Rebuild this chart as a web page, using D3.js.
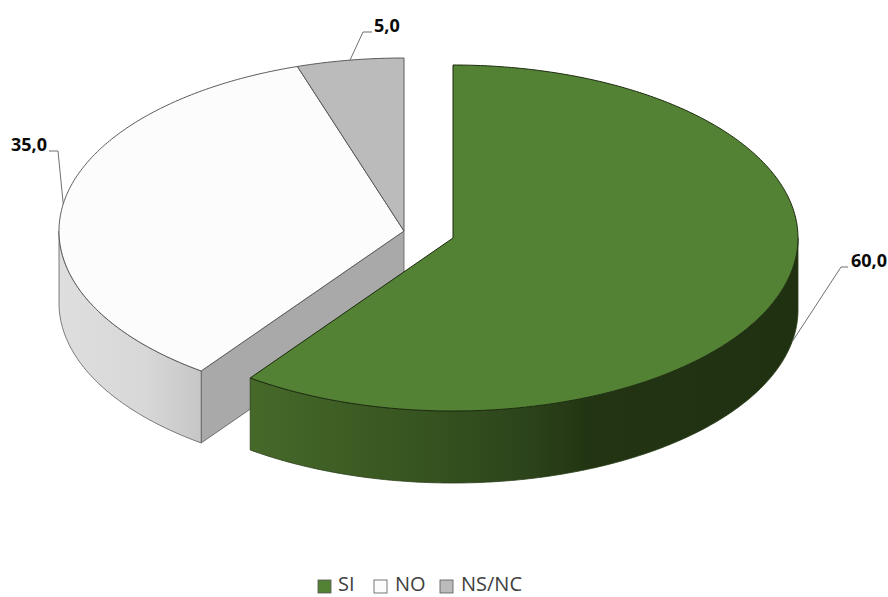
<!DOCTYPE html>
<html>
<head>
<meta charset="utf-8">
<style>
  html, body { margin: 0; padding: 0; background: #fff; }
  svg { display: block; }
  text { font-family: "Open Sans", sans-serif; }
</style>
</head>
<body>
<div id="chart"></div>
<script src="https://cdn.jsdelivr.net/npm/d3@7"></script>
<script>
var categories = ['SI', 'NO', 'NS/NC'];
var values = [60, 35, 5];
var labels = ['60,0', '35,0', '5,0'];

var topColors = ['#548235', '#fcfcfc', '#bbbbbb'];
var edgeColors = ['#1c2a0e', '#5a5a5a', '#5a5a5a'];

var width = 888, height = 597;
var rx = 345, ry = 173, depth = 72;

// the green slice is pulled out of the pie, the other two share a centre
var centres = [{x: 453, y: 238}, {x: 404, y: 231}, {x: 404, y: 231}];

// Setup: leader lines, anchor angle in degrees, elbow, label
var leaders = [
  {angle: 100.6, down: depth, elbow: [[841, 267], [848, 267]], tx: 851, ty: 267},
  {angle: 279, down: 0, elbow: [[58, 151], [49, 151]], tx: 11, ty: 151},
  {angle: 351, down: 0, elbow: [[363, 32], [372, 32]], tx: 374, ty: 32}
];

var svg = d3.select('#chart').append('svg')
  .attr('width', width)
  .attr('height', height);

var defs = svg.append('defs');

function gradient(id, x1, x2, stops) {
  var g = defs.append('linearGradient')
    .attr('id', id)
    .attr('gradientUnits', 'userSpaceOnUse')
    .attr('x1', x1).attr('x2', x2)
    .attr('y1', 0).attr('y2', 0);
  stops.forEach(function(s) {
    g.append('stop').attr('offset', s[0]).attr('stop-color', s[1]);
  });
}
gradient('wallGreen', 250, 800, [[0, '#46692a'], [0.3, '#375520'], [0.5, '#2c441b'], [0.62, '#223412'], [1, '#203112']]);
gradient('wallWhite', 59, 202, [[0, '#dedede'], [0.6, '#d8d8d8'], [1, '#c6c6c6']]);

var pie = d3.pie().sort(null).value(function(d) { return d; });
var arcs = pie(values);

function scales(i) {
  return {
    x: d3.scaleLinear().domain([-1, 1]).range([centres[i].x - rx, centres[i].x + rx]),
    y: d3.scaleLinear().domain([-1, 1]).range([centres[i].y - ry, centres[i].y + ry])
  };
}

function rim(i, a0, a1, dy) {
  var s = scales(i);
  return d3.range(a0, a1, 0.01).concat([a1]).map(function(a) {
    return [s.x(Math.sin(a)), s.y(-Math.cos(a)) + dy];
  });
}

var line = d3.line();

function wall(i, a0, a1, fill, stroke) {
  var path = rim(i, a0, a1, 0).concat(rim(i, a0, a1, depth).reverse());
  svg.append('path')
    .attr('d', line(path) + 'Z')
    .attr('fill', fill)
    .attr('stroke', stroke)
    .attr('stroke-width', 0.8)
    .attr('stroke-linejoin', 'round');
}

function topFace(i) {
  var c = [centres[i].x, centres[i].y];
  svg.append('path')
    .attr('d', line([c].concat(rim(i, arcs[i].startAngle, arcs[i].endAngle, 0))) + 'Z')
    .attr('fill', topColors[i])
    .attr('stroke', edgeColors[i])
    .attr('stroke-width', 1)
    .attr('stroke-linejoin', 'round');
}

// Left part first, the green slice sits in front of it
var cutEnd = rim(1, arcs[1].startAngle, arcs[1].startAngle, 0)[0];
var c1 = [centres[1].x, centres[1].y];
svg.append('path')
  .attr('d', line([c1, cutEnd, [cutEnd[0], cutEnd[1] + depth], [c1[0], c1[1] + depth]]) + 'Z')
  .attr('fill', '#a9a9a9')
  .attr('stroke', '#5a5a5a')
  .attr('stroke-width', 0.8);
wall(1, arcs[1].startAngle, 1.5 * Math.PI, 'url(#wallWhite)', '#5a5a5a');
topFace(1);
topFace(2);

wall(0, 0.5 * Math.PI, arcs[0].endAngle, 'url(#wallGreen)', '#2a3d18');
topFace(0);

// Leader lines and value labels
leaders.forEach(function(l, i) {
  var s = scales(i);
  var a = l.angle * Math.PI / 180;
  var start = [s.x(Math.sin(a)), s.y(-Math.cos(a)) + l.down];
  svg.append('path')
    .attr('d', line([start].concat(l.elbow)))
    .attr('fill', 'none')
    .attr('stroke', '#6f6f6f')
    .attr('stroke-width', 1);
  svg.append('text')
    .attr('x', l.tx)
    .attr('y', l.ty)
    .attr('font-size', 18)
    .attr('font-weight', 700)
    .attr('fill', '#0a0a0a')
    .text(labels[i]);
});

// Legend
var legendX = [318, 374, 440];
var legendTextX = [338, 395, 461];
var legend = svg.append('g');
categories.forEach(function(c, i) {
  legend.append('rect')
    .attr('x', legendX[i]).attr('y', 580)
    .attr('width', 13).attr('height', 13)
    .attr('fill', topColors[i])
    .attr('stroke', '#555')
    .attr('stroke-width', 0.8);
  legend.append('text')
    .attr('x', legendTextX[i])
    .attr('y', 591)
    .attr('font-size', 20)
    .attr('fill', '#404040')
    .text(c);
});
</script>
</body>
</html>
